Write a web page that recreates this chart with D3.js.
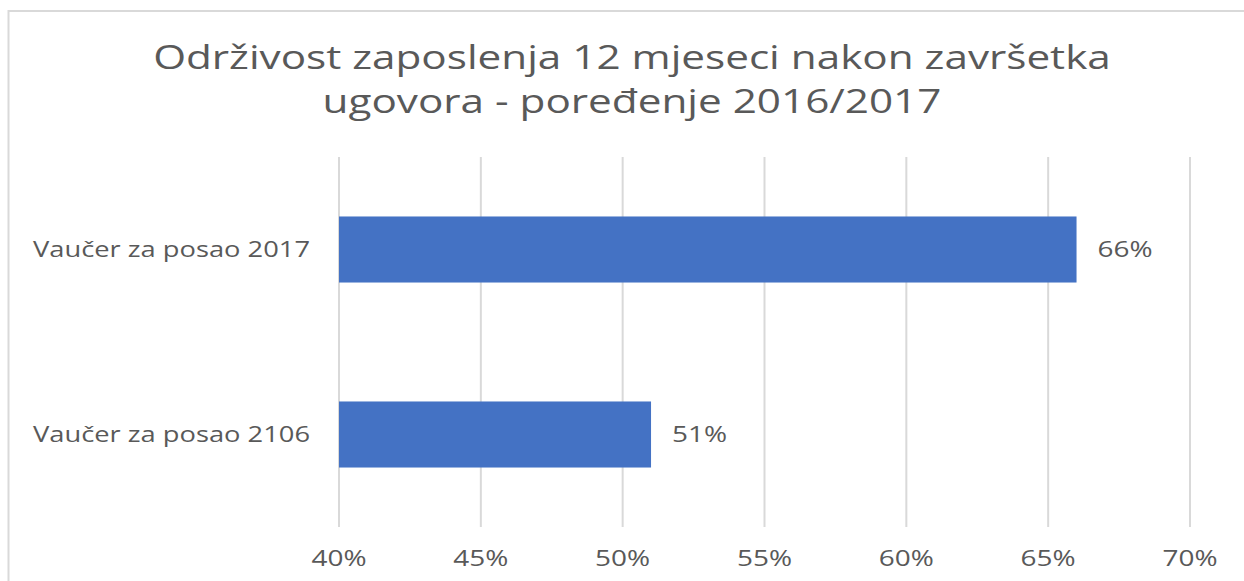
<!DOCTYPE html>
<html>
<head>
<meta charset="utf-8">
<script src="https://cdn.jsdelivr.net/npm/d3@7"></script>
<style>
  html, body { margin: 0; padding: 0; background: #fff; overflow: hidden; }
  text { font-family: "Open Sans", "Noto Sans", sans-serif; fill: #595959; }
</style>
</head>
<body>
<div id="chart"></div>
<script>
const width = 1244;
const height = 581;

// data
const categories = ["Vaučer za posao 2017", "Vaučer za posao 2106"];
const values = [0.66, 0.51];
const xTicks = [0.40, 0.45, 0.50, 0.55, 0.60, 0.65, 0.70];
const titleLines = ["Održivost zaposlenja 12 mjeseci nakon završetka", "ugovora - poređenje 2016/2017"];

const svg = d3.select("#chart")
  .append("svg")
  .attr("width", width)
  .attr("height", height);

// chart frame (right and bottom edge fall outside the picture)
svg.append("rect")
  .attr("x", 8.5)
  .attr("y", 11)
  .attr("width", width + 20)
  .attr("height", height + 20)
  .attr("fill", "none")
  .attr("stroke", "#d9d9d9")
  .attr("stroke-width", 2);

const plot = { left: 339, right: 1190, top: 157, bottom: 527 };

const x = d3.scaleLinear()
  .domain([0.40, 0.70])
  .range([plot.left, plot.right]);

const y = d3.scaleBand()
  .domain(categories)
  .range([plot.top, plot.bottom])
  .paddingInner(0.643)
  .paddingOuter(0.643 / 2);

// the reference text is stretched sideways
function widen(stretch) {
  return sel => sel.each(function () {
    const w = this.getComputedTextLength();
    d3.select(this)
      .attr("textLength", w * stretch)
      .attr("lengthAdjust", "spacingAndGlyphs");
  });
}

// gridlines
svg.append("g")
  .selectAll("line")
  .data(xTicks)
  .join("line")
  .attr("x1", d => x(d))
  .attr("x2", d => x(d))
  .attr("y1", plot.top)
  .attr("y2", plot.bottom)
  .attr("stroke", "#d9d9d9")
  .attr("stroke-width", 2);

// bars
svg.append("g")
  .selectAll("rect")
  .data(values)
  .join("rect")
  .attr("x", x(0.40))
  .attr("y", (d, i) => y(categories[i]))
  .attr("width", d => x(d) - x(0.40))
  .attr("height", y.bandwidth())
  .attr("fill", "#4472c4");

// data labels
svg.append("g")
  .selectAll("text")
  .data(values)
  .join("text")
  .attr("x", d => x(d) + 21)
  .attr("y", (d, i) => y(categories[i]) + y.bandwidth() / 2)
  .attr("dy", "0.35em")
  .attr("font-size", 22)
  .text(d => d3.format(".0%")(d))
  .call(widen(1.27));

// category labels
svg.append("g")
  .selectAll("text")
  .data(categories)
  .join("text")
  .attr("x", 310)
  .attr("y", d => y(d) + y.bandwidth() / 2)
  .attr("dy", "0.35em")
  .attr("text-anchor", "end")
  .attr("font-size", 22)
  .text(d => d)
  .call(widen(1.24));

// x tick labels
svg.append("g")
  .selectAll("text")
  .data(xTicks)
  .join("text")
  .attr("x", d => x(d))
  .attr("y", 566)
  .attr("text-anchor", "middle")
  .attr("font-size", 22)
  .text(d => d3.format(".0%")(d))
  .call(widen(1.27));

// title
svg.append("g")
  .selectAll("text")
  .data(titleLines)
  .join("text")
  .attr("x", 632)
  .attr("y", (d, i) => 69 + i * 44)
  .attr("text-anchor", "middle")
  .attr("font-size", 33)
  .text(d => d)
  .call(widen(1.28));
</script>
</body>
</html>
